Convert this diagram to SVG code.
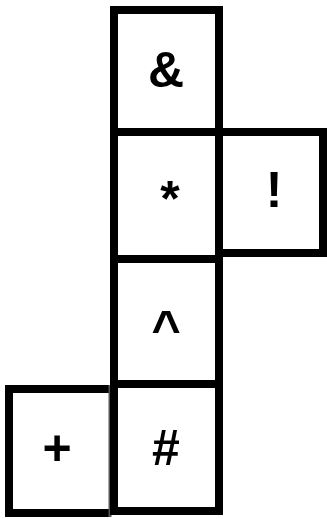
<svg xmlns="http://www.w3.org/2000/svg" width="327" height="519" viewBox="0 0 327 519">
<style>
.box{fill:#fff;stroke:#000;stroke-width:8}
.lbl{font-family:"Liberation Sans",Arial,sans-serif;font-weight:bold;font-size:50px;fill:#000;text-anchor:middle}
</style>
<rect width="327" height="519" fill="#fff"/>
<g id="node-plus">
<path class="box" d="M110 389 H9 V513 H110"/>
<line x1="110" y1="385" x2="110" y2="517" stroke="#555" stroke-width="3"/>
<text class="lbl" x="57" y="465">+</text>
</g>
<g id="node-bang">
<rect class="box" x="219" y="132" width="104" height="121"/>
<text class="lbl" x="274" y="207">!</text>
</g>
<g id="node-amp">
<rect class="box" x="114" y="10" width="105" height="122"/>
<text class="lbl" x="166" y="87">&amp;</text>
</g>
<g id="node-star">
<rect class="box" x="114" y="132" width="105" height="127"/>
<text class="lbl" x="170" y="216">*</text>
</g>
<g id="node-caret">
<rect class="box" x="114" y="259" width="105" height="125"/>
<text class="lbl" x="166" y="346">^</text>
</g>
<g id="node-hash">
<rect class="box" x="114" y="384" width="105" height="127"/>
<text class="lbl" x="166" y="465">#</text>
</g>
</svg>
